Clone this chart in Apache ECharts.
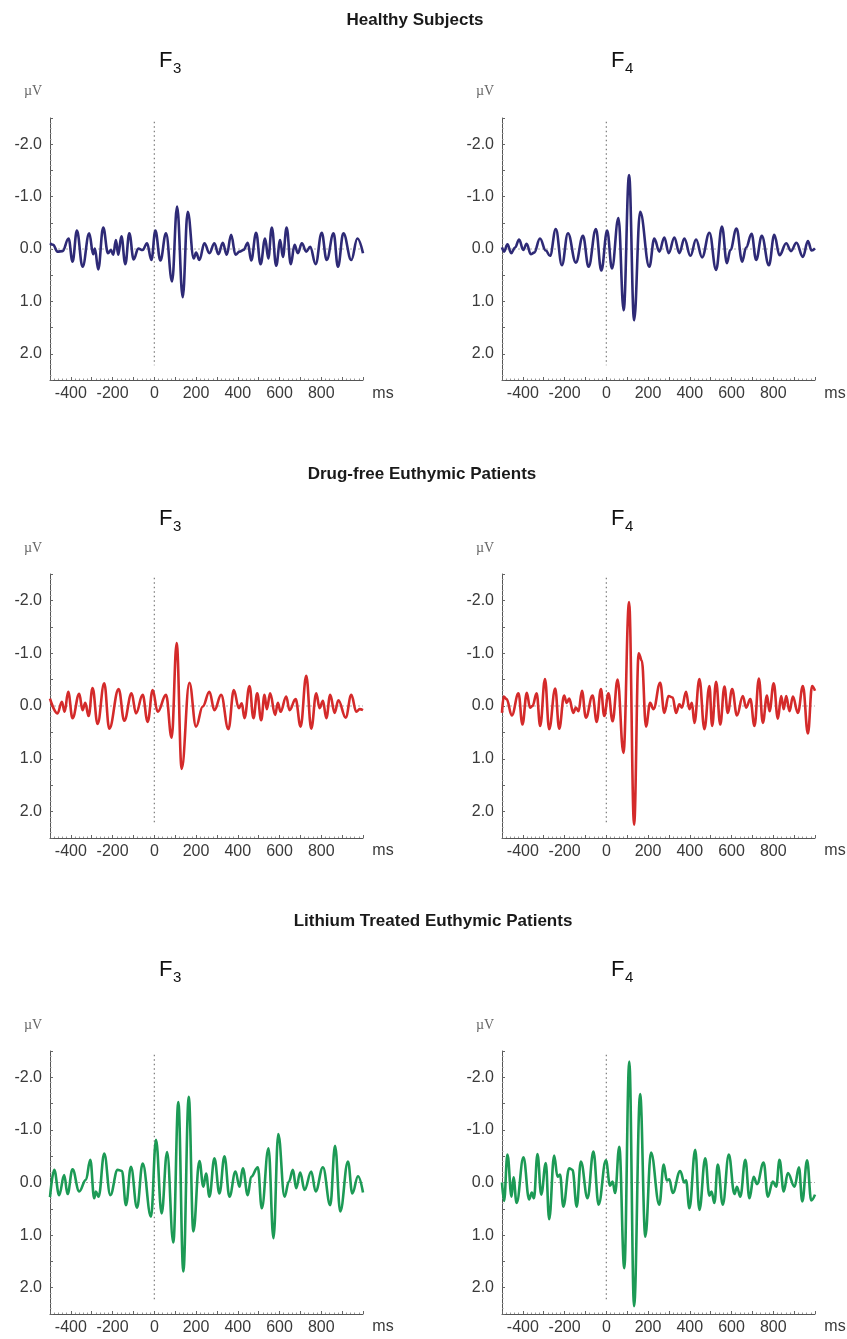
<!DOCTYPE html>
<html>
<head>
<meta charset="utf-8">
<script src="https://cdn.jsdelivr.net/npm/echarts@6/dist/echarts.min.js"></script>
<style>
  html, body { margin: 0; padding: 0; background: #ffffff; }
  #chart { width: 847px; height: 1339px; }
</style>
</head>
<body>
<div id="chart"></div>
<script>
// Group headings and electrode channels
const groupTitles = ['Healthy Subjects', 'Drug-free Euthymic Patients', 'Lithium Treated Euthymic Patients'];
const channelNames = ['3', '4'];

// Tick labels
const xTickLabels = [-400, -200, 0, 200, 400, 600, 800];
const yTickLabels = [-2, -1, 0, 1, 2];

// Reference lines: stimulus onset (ms = 0) and the 0 µV baseline
const onsetLineRange = [-2.43, 2.22];
const baselineRange = [-500, 1000];

// Averaged waveforms, [time in ms, amplitude in µV] at each turning point
const healthyF3 = [[-500,-0.11],[-485,-0.08],[-464,0.05],[-440,0.04],[-411,-0.20],[-392,0.24],[-371,-0.35],[-344,0.34],[-312,-0.30],[-293,0.10],[-285,-0.01],[-269,0.39],[-245,-0.41],[-222,0.08],[-208,0.02],[-197,0.11],[-184,-0.17],[-173,0.11],[-158,-0.24],[-139,0.29],[-120,-0.30],[-99,0.20],[-77,-0.01],[-56,0.02],[-35,-0.11],[-14,0.21],[5,-0.35],[29,0.22],[56,-0.30],[85,0.62],[109,-0.81],[136,0.92],[160,-0.71],[189,0.18],[200,0.07],[216,0.21],[240,-0.11],[264,0.08],[288,-0.11],[307,0.10],[328,-0.12],[347,0.11],[368,-0.27],[389,0.11],[408,0.05],[427,0.02],[448,-0.12],[464,0.22],[488,-0.31],[509,0.29],[531,-0.20],[546,0.18],[563,-0.41],[584,0.32],[603,-0.17],[616,0.15],[634,-0.41],[654,0.29],[672,-0.08],[688,0.08],[707,-0.11],[728,0.05],[747,-0.04],[773,0.29],[802,-0.31],[826,0.21],[859,-0.30],[880,0.34],[906,-0.30],[944,0.21],[973,-0.20],[1000,0.08]];

const healthyF4 = [[-500,-0.03],[-490,0.05],[-474,-0.09],[-456,0.08],[-437,-0.03],[-418,-0.18],[-398,0.02],[-382,-0.10],[-362,0.10],[-346,0.07],[-318,-0.20],[-290,0.03],[-270,0.13],[-242,-0.38],[-213,0.31],[-184,-0.30],[-146,0.26],[-112,-0.25],[-85,0.34],[-50,-0.38],[-24,0.41],[4,-0.35],[27,0.37],[58,-0.59],[83,1.17],[109,-1.41],[133,1.36],[162,-0.71],[206,0.34],[230,-0.20],[254,0.05],[278,-0.22],[299,0.08],[326,-0.22],[350,0.08],[374,-0.20],[403,0.13],[430,-0.18],[459,0.16],[494,-0.31],[526,0.40],[554,-0.43],[578,0.27],[594,0.02],[624,-0.39],[651,0.24],[670,-0.03],[696,-0.29],[718,0.21],[745,-0.25],[779,0.31],[805,-0.27],[830,0.12],[862,-0.11],[885,0.04],[911,-0.12],[942,0.15],[966,-0.15],[984,0.03],[1000,-0.01]];

const drugFreeF3 = [[-500,-0.14],[-464,0.14],[-443,-0.08],[-430,0.11],[-413,-0.27],[-392,0.23],[-360,-0.23],[-344,0.08],[-331,-0.06],[-315,0.19],[-296,-0.34],[-272,0.34],[-240,-0.43],[-216,0.43],[-171,-0.32],[-144,0.28],[-109,-0.24],[-88,0.14],[-56,-0.21],[-32,0.30],[-8,-0.30],[16,0.11],[56,-0.21],[83,0.60],[107,-1.19],[131,1.19],[168,-0.44],[200,0.39],[232,0.01],[264,-0.27],[288,0.08],[320,-0.21],[355,0.44],[381,-0.30],[405,0.04],[419,-0.05],[432,0.23],[456,-0.38],[475,0.23],[493,-0.24],[512,0.27],[528,-0.21],[539,0.06],[555,-0.24],[579,0.17],[592,-0.06],[605,0.11],[632,-0.18],[648,0.08],[677,-0.13],[701,0.39],[728,-0.57],[752,0.43],[776,-0.24],[792,0.04],[808,-0.10],[824,0.23],[843,-0.21],[864,0.13],[882,-0.11],[917,0.22],[944,-0.21],[968,0.11],[984,0.06],[1000,0.08]];

const drugFreeF4 = [[-500,0.13],[-492,-0.18],[-478,-0.13],[-453,0.18],[-421,-0.24],[-402,0.35],[-381,-0.25],[-366,0.03],[-354,0.00],[-334,-0.24],[-317,0.38],[-294,-0.51],[-274,0.44],[-245,-0.33],[-226,0.43],[-202,-0.20],[-190,-0.06],[-178,-0.14],[-158,0.13],[-146,0.03],[-133,0.10],[-117,-0.29],[-98,0.22],[-66,-0.20],[-46,0.30],[-26,-0.32],[-10,0.19],[10,-0.24],[30,0.29],[54,-0.50],[82,0.89],[109,-1.97],[133,2.25],[155,-1.00],[170,-0.86],[190,0.39],[210,-0.06],[226,0.06],[258,-0.44],[278,0.13],[298,-0.19],[318,-0.16],[334,0.13],[350,-0.03],[362,0.03],[382,-0.27],[398,0.06],[410,-0.06],[422,0.32],[446,-0.51],[470,0.44],[494,-0.38],[507,0.38],[526,-0.46],[546,0.35],[566,-0.37],[582,0.13],[603,-0.32],[626,0.18],[654,-0.19],[670,0.03],[690,-0.13],[710,0.38],[731,-0.52],[750,0.32],[770,-0.20],[782,0.10],[802,-0.43],[822,0.24],[838,-0.19],[850,0.06],[862,-0.19],[878,0.10],[894,-0.18],[918,0.13],[942,-0.38],[966,0.52],[986,-0.38],[1000,-0.29]];

const lithiumF3 = [[-500,0.28],[-480,-0.24],[-456,0.24],[-432,-0.14],[-416,0.22],[-392,-0.25],[-360,0.17],[-328,-0.05],[-307,-0.43],[-288,0.30],[-280,0.17],[-267,0.27],[-240,-0.55],[-211,0.24],[-176,-0.24],[-155,-0.22],[-136,0.43],[-112,-0.30],[-83,0.48],[-56,-0.36],[-16,0.65],[8,-0.81],[35,0.59],[61,-0.58],[91,1.14],[115,-1.53],[139,1.69],[165,-1.63],[187,0.93],[216,-0.41],[235,0.08],[248,-0.17],[264,0.27],[288,-0.46],[312,0.21],[336,-0.50],[360,0.27],[389,-0.21],[408,0.08],[424,-0.27],[448,0.24],[464,-0.11],[496,-0.29],[515,0.49],[547,-0.65],[571,1.06],[594,-0.92],[624,0.27],[645,-0.02],[664,-0.24],[680,0.11],[699,-0.19],[720,0.14],[752,-0.21],[773,0.17],[808,-0.29],[843,0.43],[866,-0.70],[891,0.55],[928,-0.40],[949,0.21],[976,-0.12],[1000,0.19]];

const lithiumF4 = [[-500,0.00],[-490,0.35],[-474,-0.53],[-454,0.27],[-445,-0.10],[-430,0.39],[-397,-0.48],[-370,0.32],[-357,0.19],[-347,0.30],[-330,-0.54],[-312,0.23],[-290,-0.37],[-274,0.70],[-250,-0.51],[-234,-0.11],[-222,-0.15],[-206,0.46],[-178,-0.27],[-162,-0.24],[-142,0.46],[-122,-0.40],[-90,0.30],[-62,-0.59],[-37,0.42],[-2,-0.42],[18,0.06],[30,-0.02],[42,0.20],[62,-0.68],[86,1.63],[110,-2.30],[133,2.35],[162,-1.68],[187,1.03],[214,-0.57],[254,0.42],[275,-0.34],[290,-0.04],[302,-0.06],[318,0.20],[354,-0.22],[374,0.00],[382,-0.04],[398,0.49],[426,-0.62],[446,0.52],[474,-0.46],[494,0.25],[504,0.17],[518,0.39],[534,-0.34],[558,0.42],[587,-0.53],[614,0.22],[626,0.08],[642,0.27],[666,-0.43],[686,0.30],[706,-0.11],[722,0.03],[754,-0.38],[774,0.27],[798,-0.02],[814,0.08],[830,-0.43],[850,0.17],[870,-0.18],[902,0.08],[923,-0.29],[939,0.36],[962,-0.42],[982,0.34],[1000,0.23]];

const panelSeries = [[healthyF3, healthyF4], [drugFreeF3, drugFreeF4], [lithiumF3, lithiumF4]];
const groupColors = ['#2e2a76', '#d42a2a', '#1c9a55'];

// Page layout (pixels)
const rows = [
  { top: 118,  height: 262, titleX: 415, title: 20,  chan: 61,  unit: 91,   ms: 394 },
  { top: 574,  height: 264, titleX: 422, title: 474, chan: 519, unit: 548,  ms: 851 },
  { top: 1051, height: 263, titleX: 433, title: 921, chan: 970, unit: 1025, ms: 1327 }
];
const cols = [{ left: 50 }, { left: 502 }];
const plotWidth = 313;

const sansFont = '"Liberation Sans", Arial, Helvetica, sans-serif';
const labelColor = '#3a3a3a';
const axisColor = '#555555';

const option = {
  animation: false,
  backgroundColor: '#ffffff',
  grid: [], xAxis: [], yAxis: [], series: [], graphic: []
};

rows.forEach((row, r) => {
  option.graphic.push({
    type: 'text', x: row.titleX, y: row.title,
    style: { text: groupTitles[r], fontSize: 17, fontWeight: 'bold', fontFamily: sansFont,
             fill: '#1a1a1a', align: 'center', verticalAlign: 'middle' }
  });

  cols.forEach((col, c) => {
    const idx = r * 2 + c;
    option.grid.push({ left: col.left, top: row.top, width: plotWidth, height: row.height });

    option.xAxis.push({
      gridIndex: idx, type: 'value', min: -500, max: 1000, interval: 100,
      axisLine: { show: true, onZero: false, lineStyle: { color: axisColor, width: 1 } },
      axisTick: { show: true, inside: true, length: 3, lineStyle: { color: '#666' } },
      minorTick: { show: true, splitNumber: 5, length: 1.5, lineStyle: { color: '#9a9a9a' } },
      splitLine: { show: false },
      axisLabel: {
        margin: 6, fontSize: 16, fontFamily: sansFont, color: labelColor,
        formatter: v => (xTickLabels.indexOf(Math.round(v)) >= 0 ? String(Math.round(v)) : '')
      }
    });

    option.yAxis.push({
      gridIndex: idx, type: 'value', inverse: true, min: -2.5, max: 2.5, interval: 0.5,
      axisLine: { show: true, onZero: false, lineStyle: { color: axisColor, width: 1 } },
      axisTick: { show: true, inside: true, length: 3, lineStyle: { color: '#666' } },
      minorTick: { show: true, splitNumber: 5, length: 1.5, lineStyle: { color: '#9a9a9a' } },
      splitLine: { show: false },
      axisLabel: {
        margin: 8, fontSize: 16, fontFamily: sansFont, color: labelColor,
        formatter: v => {
          const k = Math.round(v);
          return (Math.abs(v - k) < 1e-6 && yTickLabels.indexOf(k) >= 0) ? k.toFixed(1) : '';
        }
      }
    });

    // stimulus onset marker
    option.series.push({
      type: 'line', xAxisIndex: idx, yAxisIndex: idx, z: 1, silent: true,
      showSymbol: false,
      data: [[0, onsetLineRange[0]], [0, onsetLineRange[1]]],
      lineStyle: { color: '#7a7a7a', width: 1.2, type: [1.5, 3] }
    });
    // baseline
    option.series.push({
      type: 'line', xAxisIndex: idx, yAxisIndex: idx, z: 1, silent: true,
      showSymbol: false,
      data: [[baselineRange[0], 0], [baselineRange[1], 0]],
      lineStyle: { color: '#a8a8a8', width: 1, type: [2, 2] }
    });
    // averaged waveform
    option.series.push({
      type: 'line', xAxisIndex: idx, yAxisIndex: idx, z: 3,
      data: panelSeries[r][c],
      showSymbol: false, clip: false,
      smooth: 0.4, smoothMonotone: 'x',
      lineStyle: { color: groupColors[r], width: 2.6 }
    });

    // channel label F3 / F4
    option.graphic.push({
      type: 'text', x: col.left + 109, y: row.chan,
      style: { text: 'F', fontSize: 22, fontFamily: sansFont, fill: '#111',
               align: 'left', verticalAlign: 'middle' }
    });
    option.graphic.push({
      type: 'text', x: col.left + 123, y: row.chan + 8,
      style: { text: channelNames[c], fontSize: 15, fontFamily: sansFont, fill: '#111',
               align: 'left', verticalAlign: 'middle' }
    });
    // units
    option.graphic.push({
      type: 'text', x: col.left - 17, y: row.unit,
      style: { text: 'µV', fontSize: 14, fontFamily: '"Liberation Serif", "Times New Roman", serif',
               fill: '#666', align: 'center', verticalAlign: 'middle' }
    });
    option.graphic.push({
      type: 'text', x: col.left + 333, y: row.ms,
      style: { text: 'ms', fontSize: 16, fontFamily: sansFont, fill: labelColor,
               align: 'center', verticalAlign: 'middle' }
    });
  });
});

const chart = echarts.init(document.getElementById('chart'), null, { renderer: 'canvas' });
chart.setOption(option);
</script>
</body>
</html>
